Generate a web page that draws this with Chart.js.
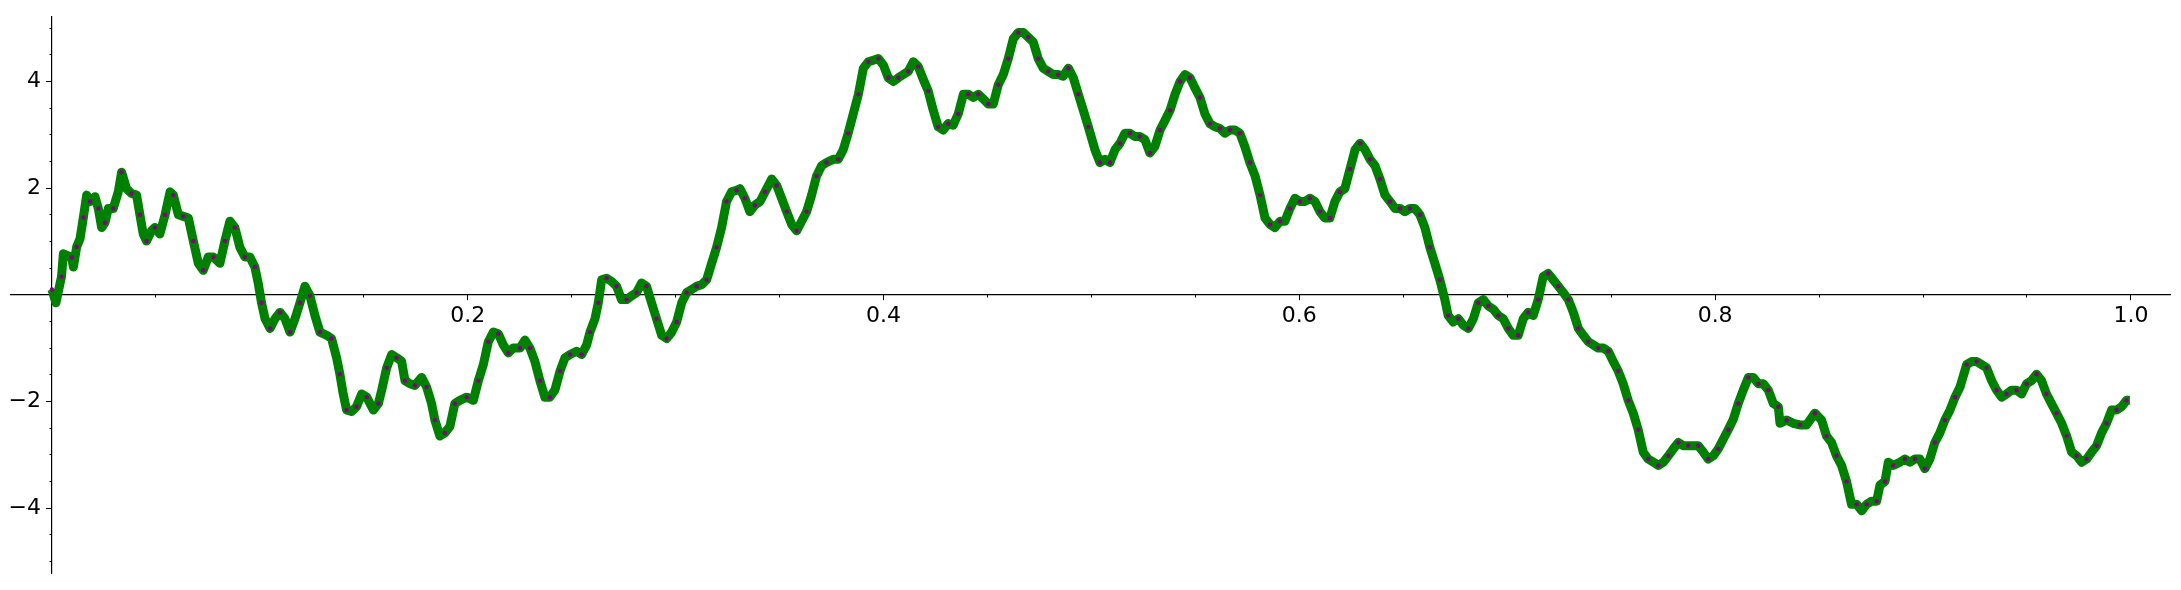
<!DOCTYPE html>
<html>
<head>
<meta charset="utf-8">
<script src="https://cdn.jsdelivr.net/npm/chart.js@4.4.1/dist/chart.umd.min.js"></script>
<style>
	html, body { margin: 0; padding: 0; background: #fff; }
	#wrap { width: 2181px; height: 590px; }
</style>
</head>
<body>
<div id="wrap"><canvas id="walk"></canvas></div>
<script>
// path, x in [0, 1]
const xs = [
	0, 0.0019, 0.0046, 0.0055, 0.0095, 0.0103, 0.0119, 0.0135, 0.0151, 0.0167, 0.0183, 0.0207, 0.0223, 0.0239, 0.0255, 0.0271, 0.0295, 0.0319, 0.0335, 0.0359,
	0.0383, 0.0407, 0.0423, 0.0439, 0.0455, 0.0479, 0.0495, 0.0519, 0.0544, 0.0568, 0.0584, 0.0608, 0.0632, 0.0656, 0.0680, 0.0704, 0.0728, 0.0752, 0.0776, 0.0808,
	0.0832, 0.0856, 0.0880, 0.0904, 0.0928, 0.0952, 0.0976, 0.0992, 0.1008, 0.1025, 0.1049, 0.1073, 0.1097, 0.1121, 0.1145, 0.1169, 0.1193, 0.1217, 0.1241, 0.1265,
	0.1289, 0.1321, 0.1345, 0.1369, 0.1385, 0.1401, 0.1417, 0.1441, 0.1465, 0.1490, 0.1514, 0.1546, 0.1570, 0.1586, 0.1610, 0.1634, 0.1658,
	0.1682, 0.1698, 0.1722, 0.1746, 0.1778, 0.1802, 0.1826, 0.1842, 0.1866, 0.1890, 0.1914, 0.1938, 0.1962, 0.1995, 0.2027, 0.2051, 0.2075, 0.2099, 0.2123, 0.2147,
	0.2171, 0.2195, 0.2219, 0.2251, 0.2275, 0.2299, 0.2323, 0.2347, 0.2371, 0.2395, 0.2419, 0.2444, 0.2468, 0.2492, 0.2524, 0.2548, 0.2572, 0.2588, 0.2612, 0.2628,
	0.2644, 0.2668, 0.2692, 0.2716, 0.2740, 0.2764, 0.2788, 0.2812, 0.2836, 0.2860, 0.2884, 0.2908, 0.2933, 0.2957, 0.2981, 0.3005, 0.3029, 0.3053, 0.3077, 0.3101,
	0.3125, 0.3149, 0.3173, 0.3197, 0.3221, 0.3245, 0.3269, 0.3293,
	0.3309, 0.3333, 0.3357, 0.3381, 0.3406, 0.3430, 0.3462, 0.3486, 0.3510, 0.3534, 0.3558, 0.3582, 0.3606, 0.3630, 0.3654, 0.3678, 0.3702, 0.3726, 0.3758, 0.3782,
	0.3806, 0.3830, 0.3854, 0.3879, 0.3903, 0.3927, 0.3951, 0.3975, 0.3999, 0.4023, 0.4047, 0.4071, 0.4095, 0.4119, 0.4143, 0.4167, 0.4191, 0.4215, 0.4239, 0.4263,
	0.4287, 0.4311, 0.4335, 0.4359, 0.4384, 0.4408, 0.4432, 0.4456, 0.4480, 0.4504, 0.4528, 0.4552, 0.4576, 0.4600, 0.4624, 0.4648, 0.4672, 0.4696, 0.4720, 0.4744,
	0.4768, 0.4792, 0.4816, 0.4840, 0.4864, 0.4889, 0.4913, 0.4937, 0.4961, 0.4985,
	0.5017, 0.5041, 0.5065, 0.5089, 0.5113, 0.5137, 0.5161, 0.5185, 0.5209, 0.5233, 0.5257, 0.5281, 0.5305, 0.5330, 0.5354, 0.5378, 0.5402, 0.5426, 0.5450, 0.5474,
	0.5498, 0.5522, 0.5546, 0.5570, 0.5594, 0.5618, 0.5642, 0.5666, 0.5690, 0.5714, 0.5738, 0.5762, 0.5787, 0.5811, 0.5835, 0.5859, 0.5883, 0.5907, 0.5931, 0.5955,
	0.5979, 0.6003, 0.6027, 0.6051, 0.6075, 0.6099, 0.6123, 0.6147, 0.6171, 0.6195, 0.6219, 0.6244, 0.6268, 0.6292, 0.6316, 0.6340, 0.6364, 0.6388, 0.6412, 0.6436,
	0.6460, 0.6484, 0.6508, 0.6532, 0.6556, 0.6580, 0.6604, 0.6628, 0.6652, 0.6676,
	0.6700, 0.6716, 0.6740, 0.6765, 0.6789, 0.6813, 0.6837, 0.6861, 0.6885, 0.6909, 0.6933, 0.6957, 0.6981, 0.7005, 0.7029, 0.7053, 0.7077, 0.7101, 0.7125, 0.7149,
	0.7173, 0.7197, 0.7221, 0.7246, 0.7270, 0.7294, 0.7318, 0.7342, 0.7366, 0.7390, 0.7414, 0.7438, 0.7462, 0.7486, 0.7510, 0.7534, 0.7558, 0.7582, 0.7606, 0.7630,
	0.7654, 0.7678, 0.7703, 0.7727, 0.7751, 0.7775, 0.7799, 0.7823, 0.7847, 0.7871, 0.7895, 0.7919, 0.7943, 0.7967, 0.7991, 0.8015, 0.8039, 0.8063, 0.8087, 0.8111,
	0.8135, 0.8160, 0.8184, 0.8208, 0.8232, 0.8256, 0.8280, 0.8304,
	0.8312, 0.8344, 0.8376, 0.8408, 0.8440, 0.8480, 0.8512, 0.8536, 0.8560, 0.8584, 0.8608, 0.8632, 0.8656, 0.8681, 0.8705, 0.8729, 0.8753, 0.8777, 0.8793, 0.8817,
	0.8833, 0.8857, 0.8889, 0.8913, 0.8937, 0.8961, 0.8985, 0.9009, 0.9033, 0.9057, 0.9081, 0.9105, 0.9130, 0.9154, 0.9178,
	0.9210, 0.9234, 0.9258, 0.9282, 0.9306, 0.9330, 0.9354, 0.9378, 0.9402, 0.9426, 0.9450, 0.9474, 0.9498, 0.9522, 0.9546, 0.9570, 0.9594, 0.9618, 0.9642, 0.9667,
	0.9691, 0.9715, 0.9739, 0.9763, 0.9787, 0.9811, 0.9835, 0.9859, 0.9883, 0.9907, 0.9931, 0.9955, 0.9979, 0.9995
];
const ys = [
	0.10, -0.15, 0.34, 0.77, 0.70, 0.52, 0.90, 1.05, 1.45, 1.87, 1.75, 1.84, 1.62, 1.26, 1.35, 1.62, 1.62, 1.93, 2.30, 1.99,
	1.90, 1.87, 1.50, 1.14, 1.01, 1.20, 1.26, 1.14, 1.50, 1.93, 1.87, 1.50, 1.47, 1.44, 1.01, 0.59, 0.46, 0.71, 0.71, 0.59,
	1.01, 1.38, 1.26, 0.89, 0.71, 0.71, 0.52, 0.22, -0.15, -0.45, -0.63, -0.45, -0.33, -0.45, -0.70, -0.45, -0.15, 0.16, -0.02, -0.39,
	-0.70, -0.76, -0.82, -1.18, -1.49, -1.86, -2.16, -2.19, -2.10, -1.86, -1.92, -2.16, -2.04, -1.79, -1.37, -1.12, -1.18,
	-1.25, -1.61, -1.67, -1.70, -1.55, -1.73, -2.04, -2.35, -2.65, -2.59, -2.47, -2.04, -1.98, -1.92, -1.98, -1.61, -1.31, -0.88, -0.70, -0.73,
	-0.94, -1.09, -1.00, -1.00, -0.85, -1.00, -1.25, -1.61, -1.92, -1.92, -1.79, -1.43, -1.18, -1.12, -1.06, -1.12, -0.94, -0.70, -0.45, -0.15,
	0.28, 0.31, 0.25, 0.16, -0.09, -0.09, -0.02, 0.04, 0.22, 0.16, -0.15, -0.45, -0.76, -0.82, -0.70, -0.51, -0.15, 0.04, 0.10, 0.16,
	0.19, 0.28, 0.59, 0.89, 1.26, 1.75, 1.93, 1.96,
	1.99, 1.81, 1.56, 1.68, 1.75, 1.93, 2.17, 2.05, 1.81, 1.56, 1.32, 1.20, 1.38, 1.56, 1.87, 2.23, 2.42, 2.48, 2.54, 2.54,
	2.72, 3.03, 3.39, 3.76, 4.25, 4.37, 4.40, 4.43, 4.31, 4.07, 4.00, 4.07, 4.13, 4.19, 4.37, 4.28, 4.04, 3.82, 3.46, 3.15,
	3.09, 3.21, 3.18, 3.39, 3.76, 3.76, 3.70, 3.76, 3.67, 3.58, 3.58, 3.94, 4.13, 4.43, 4.80, 4.92, 4.92, 4.83, 4.74, 4.43,
	4.25, 4.19, 4.13, 4.13, 4.10, 4.25, 4.07, 3.76, 3.46, 3.15,
	2.72, 2.48, 2.54, 2.48, 2.72, 2.84, 3.03, 3.03, 2.97, 2.97, 2.91, 2.66, 2.78, 3.09, 3.27, 3.46, 3.76, 4.00, 4.13, 4.07,
	3.88, 3.70, 3.39, 3.21, 3.15, 3.12, 3.03, 3.09, 3.09, 3.03, 2.78, 2.48, 2.23, 1.87, 1.44, 1.32, 1.26, 1.38, 1.38, 1.62,
	1.81, 1.75, 1.75, 1.81, 1.75, 1.56, 1.44, 1.44, 1.75, 1.93, 1.99, 2.36, 2.72, 2.84, 2.72, 2.54, 2.42, 2.17, 1.87, 1.75,
	1.62, 1.62, 1.56, 1.62, 1.62, 1.50, 1.26, 0.89, 0.59, 0.28,
	-0.09, -0.39, -0.51, -0.45, -0.57, -0.63, -0.45, -0.15, -0.09, -0.21, -0.27, -0.39, -0.45, -0.63, -0.76, -0.76, -0.45, -0.33, -0.39, -0.09,
	0.34, 0.40, 0.28, 0.16, 0.04, -0.09, -0.33, -0.63, -0.76, -0.88, -0.94, -1.00, -1.00, -1.06, -1.25, -1.43, -1.67, -1.98, -2.22, -2.53,
	-2.95, -3.08, -3.14, -3.20, -3.14, -3.02, -2.89, -2.77, -2.83, -2.83, -2.83, -2.83, -2.95, -3.08, -3.02, -2.89, -2.71, -2.53, -2.34, -2.04,
	-1.79, -1.55, -1.55, -1.67, -1.67, -1.79, -2.04, -2.10,
	-2.41, -2.35, -2.41, -2.44, -2.44, -2.22, -2.35, -2.65, -2.77, -3.02, -3.20, -3.50, -3.93, -3.93, -4.05, -3.93, -3.87, -3.87, -3.57, -3.50,
	-3.14, -3.20, -3.14, -3.08, -3.14, -3.08, -3.08, -3.26, -3.08, -2.77, -2.59, -2.35, -2.16, -1.92, -1.73,
	-1.31, -1.25, -1.25, -1.31, -1.37, -1.61, -1.79, -1.92, -1.86, -1.79, -1.79, -1.86, -1.67, -1.61, -1.49, -1.61, -1.86, -2.04, -2.22, -2.41,
	-2.65, -2.95, -3.02, -3.14, -3.08, -2.95, -2.83, -2.59, -2.41, -2.16, -2.16, -2.10, -1.98, -1.98
];

const xTickLabels = [0.2, 0.4, 0.6, 0.8, 1.0];
const yTickLabels = [-4, -2, 2, 4];

const X_MIN = -0.0197, X_MAX = 1.0188;
const Y_MIN = -5.233, Y_MAX = 5.225;

const tickFont = { family: "'DejaVu Sans', sans-serif", size: 22 };

const majorAxis = (axis, min, max, position, values, fmt) => ({
	type: "linear",
	axis,
	min,
	max,
	position,
	afterBuildTicks: (s) => { s.ticks = values.map((v) => ({ value: v })); },
	border: { display: true, color: "#000", width: 1.2 },
	grid: { display: true, drawOnChartArea: false, drawTicks: true, tickLength: 5, tickWidth: 1, color: "#000" },
	ticks: { color: "#000", font: tickFont, padding: 3, autoSkip: false, maxRotation: 0, callback: fmt },
});

const minorAxis = (axis, min, max, position, step) => ({
	type: "linear",
	axis,
	min,
	max,
	position,
	border: { display: false },
	grid: { display: true, drawOnChartArea: false, drawTicks: true, tickLength: 2.5, tickWidth: 1, color: "#000" },
	ticks: { stepSize: step, includeBounds: false, autoSkip: false, maxRotation: 0, font: tickFont, callback: () => "" },
});

new Chart("walk", {
	type: "line",
	data: {
		datasets: [{
			data: xs.map((x, i) => ({ x, y: ys[i] })),
			borderColor: "#008000",
			borderWidth: 9,
			borderJoinStyle: "round",
			tension: 0,
			// sample markers: every other vertex, so they read as specks
			pointRadius: (ctx) => (ctx.dataIndex % 2 === 0 ? 2.2 : 0),
			pointBorderWidth: 0,
			pointBackgroundColor: "#800080",
		}],
	},
	options: {
		responsive: true,
		maintainAspectRatio: false,
		animation: false,
		layout: { padding: { left: 11, right: 11, top: 10, bottom: 9 } },
		plugins: { legend: { display: false }, tooltip: { enabled: false } },
		scales: {
			x: majorAxis("x", X_MIN, X_MAX, { y: 0 }, xTickLabels, (v) => v.toFixed(1)),
			y: majorAxis("y", Y_MIN, Y_MAX, { x: 0 }, yTickLabels, (v) => String(v).replace("-", "\u2212") + "\u2002"),
			xMinor: minorAxis("x", X_MIN, X_MAX, { y: 0 }, 0.05),
			yMinor: minorAxis("y", Y_MIN, Y_MAX, { x: 0 }, 0.5),
		},
	},
});
</script>
</body>
</html>
